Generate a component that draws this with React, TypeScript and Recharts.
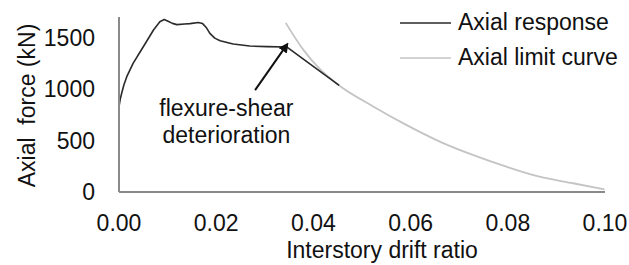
import React from 'react';
import { LineChart, Line, XAxis, YAxis, ReferenceLine, ReferenceDot, Label } from 'recharts';

// Axial response (drift ratio, axial force kN)
const responseDrift = [0, 0.00025, 0.00055, 0.001, 0.0016, 0.0029, 0.005, 0.0071, 0.0084, 0.0093, 0.0101, 0.011, 0.0119, 0.0135, 0.0146, 0.0163, 0.0172, 0.018, 0.0187, 0.0197, 0.0208, 0.0235, 0.0269, 0.0305, 0.0345, 0.0453];
const responseForce = [830, 900, 959, 1040, 1120, 1250, 1411, 1574, 1654, 1675, 1658, 1638, 1626, 1632, 1636, 1647, 1636, 1595, 1541, 1495, 1470, 1438, 1418, 1412, 1409, 1035];

// Axial limit curve
const limitDrift = [0.0343, 0.0379, 0.0413, 0.0451, 0.0523, 0.0591, 0.066, 0.0728, 0.0797, 0.0865, 0.0934, 0.0999];
const limitForce = [1643, 1383, 1195, 1042, 831, 652, 490, 360, 246, 149, 85, 26];

const xTicks = [0, 0.02, 0.04, 0.06, 0.08, 0.1];
const yTicks = [0, 500, 1000, 1500];

const seriesNames = ['Axial response', 'Axial limit curve'];
const seriesColors = ['#2a2a2a', '#c4c4c4'];
const annotationLines = ['flexure-shear', 'deterioration'];
const arrowFrom = { x: 0.028, y: 990 };
const arrowTo = { x: 0.0338, y: 1380 };
const annotationAnchor = { x: 0.0221, y: 738 };

const responseData = responseDrift.map((x, i) => ({ x, y: responseForce[i] }));
const limitData = limitDrift.map((x, i) => ({ x, y: limitForce[i] }));

const FONT = '"Liberation Sans", Arial, sans-serif';
const AXIS = '#8a8a8a';

const LegendBox = () => (
  <svg width={240} height={75} style={{ position: 'absolute', left: 390, top: 0 }}>
    {seriesNames.map((name, i) => (
      <g key={name}>
        <line x1={10} x2={61} y1={23 + i * 35} y2={23 + i * 35} stroke={seriesColors[i]} strokeWidth={1.6} />
        <text x={68} y={30 + i * 35} fontSize={23} fontFamily={FONT} fill="#111">{name}</text>
      </g>
    ))}
  </svg>
);

const AnnotationLabel = (props: any) => {
  const vb = props.viewBox || {};
  const cx = vb.x + (vb.width || 0) / 2;
  const cy = vb.y + (vb.height || 0) / 2;
  return (
    <text x={cx} y={cy} textAnchor="middle" fontSize={23} fontFamily={FONT} fill="#111">
      <tspan x={cx} dy={0}>{annotationLines[0]}</tspan>
      <tspan x={cx} dy={27}>{annotationLines[1]}</tspan>
    </text>
  );
};

export default function App() {
  return (
    <div style={{ position: 'absolute', left: 0, top: 0, width: 629, height: 265, background: '#fff' }}>
      <svg width={0} height={0} style={{ position: 'absolute' }}>
        <defs>
          <marker id="arrowHead" viewBox="0 0 10 10" refX="1" refY="5" markerWidth="5" markerHeight="5" orient="auto" markerUnits="strokeWidth">
            <path d="M0,0 L10,5 L0,10 z" fill="#111" />
          </marker>
        </defs>
      </svg>
      <LineChart width={629} height={265} margin={{ top: 17, right: 24, bottom: 0, left: 0 }}>
        <XAxis
          type="number"
          dataKey="x"
          domain={[0, 0.1]}
          ticks={xTicks}
          allowDataOverflow
          tickFormatter={(v: number) => v.toFixed(2)}
          axisLine={{ stroke: AXIS, strokeWidth: 2 }}
          tickLine={false}
          tickSize={0}
          tickMargin={23}
          tick={{ fill: '#111', fontSize: 23, fontFamily: FONT }}
          height={73}
        >
          <Label
            content={(p: any) => {
              const vb = p.viewBox;
              return (
                <text x={vb.x + vb.width / 2 + 20} y={vb.y + 66} textAnchor="middle" fontSize={23} fontFamily={FONT} fill="#111">
                  Interstory drift ratio
                </text>
              );
            }}
          />
        </XAxis>
        <YAxis
          type="number"
          domain={[0, 1700]}
          ticks={yTicks}
          allowDataOverflow
          axisLine={{ stroke: AXIS, strokeWidth: 2 }}
          tickLine={false}
          tickSize={0}
          tickMargin={24}
          tick={{ fill: '#111', fontSize: 23, fontFamily: FONT }}
          width={119}
        >
          <Label
            content={(p: any) => {
              const vb = p.viewBox;
              const cy = vb.y + vb.height / 2 + 1;
              return (
                <text x={35} y={cy} transform={`rotate(-90 35 ${cy})`} textAnchor="middle" fontSize={23} fontFamily={FONT} fill="#111" style={{ whiteSpace: 'pre' }}>
                  {'Axial  force (kN)'}
                </text>
              );
            }}
          />
        </YAxis>
        <Line
          data={limitData}
          dataKey="y"
          name={seriesNames[1]}
          type="monotone"
          stroke={seriesColors[1]}
          strokeWidth={1.8}
          dot={false}
          activeDot={false}
          isAnimationActive={false}
        />
        <Line
          data={responseData}
          dataKey="y"
          name={seriesNames[0]}
          type="linear"
          stroke={seriesColors[0]}
          strokeWidth={1.6}
          strokeLinejoin="round"
          dot={false}
          activeDot={false}
          isAnimationActive={false}
        />
        <ReferenceLine
          segment={[arrowFrom, arrowTo]}
          stroke="#111"
          strokeWidth={2}
          markerEnd="url(#arrowHead)"
          ifOverflow="visible"
        />
        <ReferenceDot
          x={annotationAnchor.x}
          y={annotationAnchor.y}
          r={0}
          fill="none"
          stroke="none"
          ifOverflow="visible"
          label={<AnnotationLabel />}
        />
      </LineChart>
      <LegendBox />
    </div>
  );
}
